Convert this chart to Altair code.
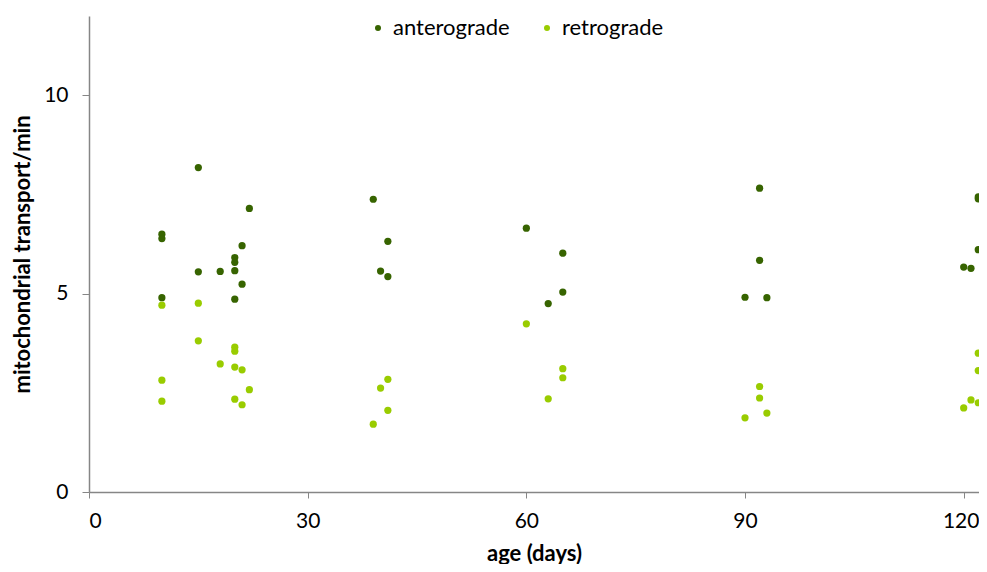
import altair as alt
import pandas as pd

# anterograde (dark green)
antero_age = [10, 10, 10, 15, 15, 18, 20, 20, 20, 20, 21, 21, 22,
              39, 40, 41, 41, 60, 63, 65, 65, 90, 92, 92, 93,
              120, 121, 122, 122, 122]
antero_val = [6.50, 6.39, 4.90, 8.18, 5.55, 5.56, 5.91, 5.79, 5.58, 4.86, 6.21, 5.24, 7.15,
              7.38, 5.57, 6.32, 5.43, 6.65, 4.75, 6.02, 5.04, 4.91, 7.66, 5.84, 4.90,
              5.67, 5.64, 7.44, 7.39, 6.11]

# retrograde (light green)
retro_age = [10, 10, 10, 15, 15, 18, 20, 20, 20, 20, 21, 21, 22,
             39, 40, 41, 41, 60, 63, 65, 65, 90, 92, 92, 93,
             120, 121, 122, 122, 122]
retro_val = [4.71, 2.82, 2.29, 4.76, 3.81, 3.23, 3.65, 3.55, 3.15, 2.34, 3.08, 2.20, 2.58,
             1.71, 2.62, 2.84, 2.06, 4.24, 2.35, 3.11, 2.88, 1.87, 2.66, 2.37, 1.99,
             2.12, 2.32, 3.50, 3.06, 2.25]

series = ["anterograde", "retrograde"]
colors = ["#376400", "#99cc00"]
x_ticks = [0, 30, 60, 90, 120]
y_ticks = [0, 5, 10]

df = pd.concat([
    pd.DataFrame({"age": antero_age, "value": antero_val, "series": series[0]}),
    pd.DataFrame({"age": retro_age, "value": retro_val, "series": series[1]}),
])

FONT = "Lato"

chart = alt.Chart(df).mark_circle(size=52, opacity=1).encode(
    x=alt.X("age:Q", title="age (days)",
            scale=alt.Scale(domain=[0, 122.1], nice=False, zero=False),
            axis=alt.Axis(values=x_ticks, grid=False, tickSize=6, labelPadding=12,
                          labelOffset={"expr": "datum.value == 120 ? -3 : 0"},
                          titlePadding=12, labelFontSize=21, titleFontSize=22,
                          titleFontWeight="bold")),
    y=alt.Y("value:Q", title="mitochondrial transport/min",
            scale=alt.Scale(domain=[0, 12], nice=False),
            axis=alt.Axis(values=y_ticks, grid=False, tickSize=7, labelPadding=14,
                          titlePadding=9, labelFontSize=21, titleFontSize=22,
                          titleFontWeight="bold")),
    color=alt.Color("series:N", scale=alt.Scale(domain=series, range=colors),
                    legend=alt.Legend(title=None, orient="none", direction="horizontal",
                                      legendX=278, legendY=1, symbolType="circle",
                                      symbolSize=36, labelFontSize=22, columnPadding=26,
                                      labelOffset=4, labelColor="#000000")),
).properties(
    width=890, height=476,
    autosize=alt.AutoSizeParams(type="none"),
    padding={"left": 81, "top": 8, "right": 0, "bottom": 72},
).configure_view(stroke=None).configure_axis(
    domainColor="#868686", tickColor="#868686", labelColor="#000000",
    titleColor="#000000", labelFont=FONT, titleFont=FONT, domainWidth=1.5,
).configure_legend(labelFont=FONT)

chart.save("out.html", embed_options={"renderer": "svg", "actions": False})
